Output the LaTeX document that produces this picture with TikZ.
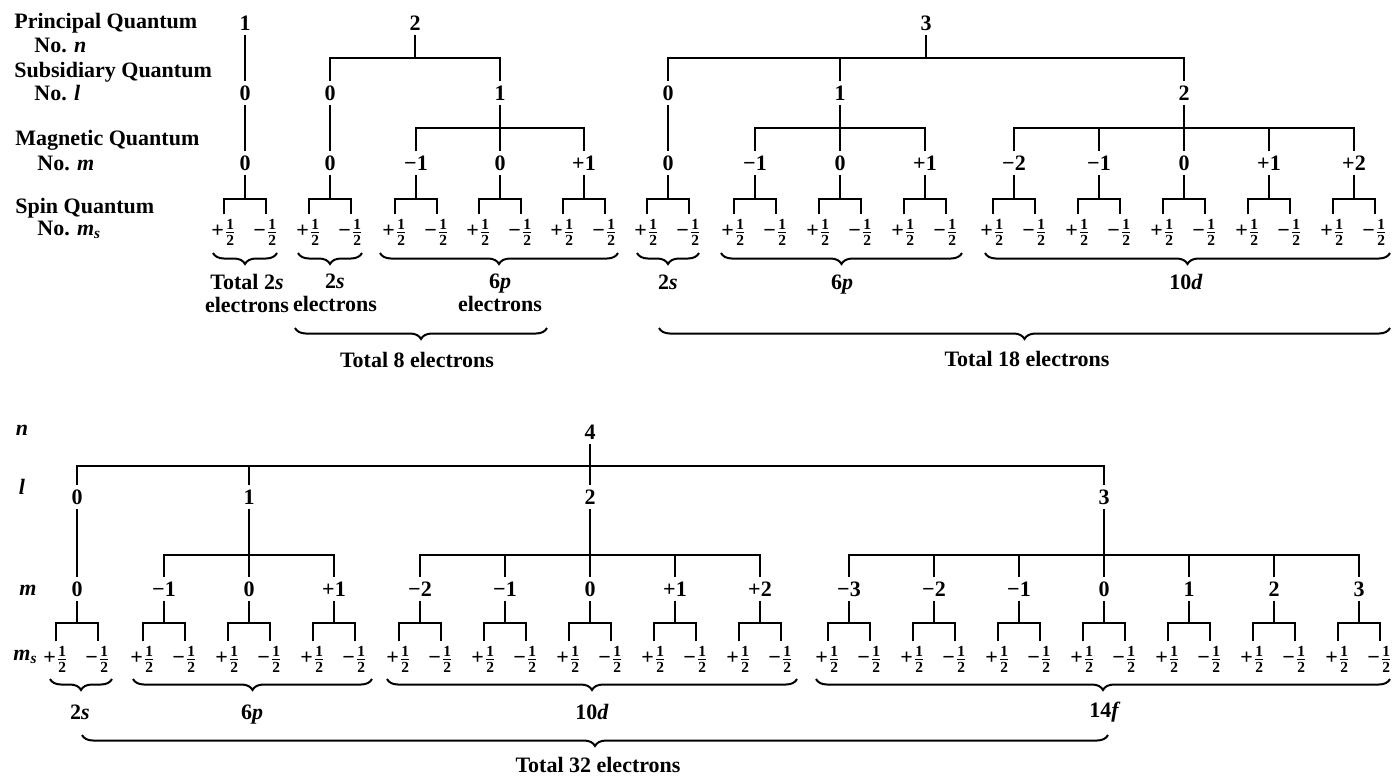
\documentclass[tikz,border=0pt]{standalone}
\usepackage{amsmath}
\usepackage{fontspec}
\setmainfont{Liberation Serif}
\usetikzlibrary{decorations.pathreplacing}

\newcommand{\spinup}{+$\frac{\text{1}}{\text{2}}$}
\newcommand{\spindn}{−$\frac{\text{1}}{\text{2}}$}

\tikzset{
  qn/.style={inner sep=2pt, font=\fontsize{11}{12}\selectfont\bfseries},
  rowlbl/.style={anchor=west, inner sep=0pt, font=\fontsize{11}{12}\selectfont\bfseries},
  branch/.style={line width=1pt},
  shell/.style={decorate, decoration={brace, mirror, amplitude=5.5pt}, line width=1pt},
  shelltxt/.style={align=center, inner sep=0pt, font=\fontsize{11}{11.5}\selectfont\bfseries},
}

\begin{document}
\begin{tikzpicture}[x=0.5pt, y=-0.5pt]

\useasboundingbox (0,0) rectangle (1392,778);

%% ==== upper half: n = 1, 2, 3 ====================================

%% row captions
\node[rowlbl] (capn)  at (14,23)  {Principal Quantum};
\node[rowlbl] (capn2) at (34,45)  {No. \textit{n}};
\node[rowlbl] (capl)  at (14,72)  {Subsidiary Quantum};
\node[rowlbl] (capl2) at (34,93)  {No. \textit{l}};
\node[rowlbl] (capm)  at (15,140) {Magnetic Quantum};
\node[rowlbl] (capm2) at (37,163) {No. \textit{m}};
\node[rowlbl] (caps)  at (15,208) {Spin Quantum};
\node[rowlbl] (caps2) at (37,230) {No. \textit{m}\textsubscript{\textit{s}}};

%% principal numbers
\node[qn] (n1) at (245,23) {1};
\node[qn] (n2) at (415,23) {2};
\node[qn] (n3) at (926,23) {3};

%% subsidiary numbers
\node[qn] (l10) at (245,93)  {0};
\node[qn] (l20) at (330,93)  {0};
\node[qn] (l21) at (500,93)  {1};
\node[qn] (l30) at (668,93)  {0};
\node[qn] (l31) at (840,93)  {1};
\node[qn] (l32) at (1184,93) {2};

%% magnetic numbers
\foreach \nm/\x/\v in {m10/245/0, m20/330/0,
    m21a/416/−1, m21b/500/0, m21c/584/+1,
    m30/668/0, m31a/755/−1, m31b/840/0, m31c/925/+1,
    m32a/1014/−2, m32b/1099/−1, m32c/1184/0, m32d/1269/+1, m32e/1354/+2}
  \node[qn] (\nm) at (\x,163) {\v};

%% n -> l
\coordinate (n2s) at (415,58);
\coordinate (n3s) at (926,58);
\draw[branch] (n1) -- (l10);
\draw[branch] (n2) -- (n2s);
\draw[branch] (l20) |- (n2s) -| (l21);
\draw[branch] (n3) -- (n3s);
\draw[branch] (l30) |- (n3s) -| (l32);
\draw[branch] (l31) -- (l31 |- n3s);

%% l -> m
\coordinate (l21s) at (500,128);
\coordinate (l31s) at (840,128);
\coordinate (l32s) at (1184,128);
\draw[branch] (l10) -- (m10);
\draw[branch] (l20) -- (m20);
\draw[branch] (l21) -- (l21s);
\draw[branch] (m21a) |- (l21s) -| (m21c);
\draw[branch] (m21b) -- (l21s);
\draw[branch] (l30) -- (m30);
\draw[branch] (l31) -- (l31s);
\draw[branch] (m31a) |- (l31s) -| (m31c);
\draw[branch] (m31b) -- (l31s);
\draw[branch] (l32) -- (l32s);
\draw[branch] (m32a) |- (l32s) -| (m32e);
\foreach \k in {b,c,d}
  \draw[branch] (m32\k) -- (m32\k |- l32s);

%% m -> spin pairs
\foreach \nm/\x in {m10/245, m20/330, m21a/416, m21b/500, m21c/584,
    m30/668, m31a/755, m31b/840, m31c/925,
    m32a/1014, m32b/1099, m32c/1184, m32d/1269, m32e/1354} {
  \coordinate (\nm s) at (\x,199);
  \node[qn] (\nm p) at (\x-21,232) {\spinup};
  \node[qn] (\nm q) at (\x+21,232) {\spindn};
  \draw[branch] (\nm) -- (\nm s);
  \draw[branch] (\nm p) |- (\nm s) -| (\nm q);
}

%% subshell braces
\foreach \a/\b in {213/277, 298/362, 380/618, 637/699, 721/962, 985/1390}
  \draw[shell] (\a,253) -- (\b,253);
\draw[shell] (295,328) -- (547,328);
\draw[shell] (659,328) -- (1390,328);

\node[shelltxt] (t2s)  at (247,293)  {Total 2\textit{s}\\electrons};
\node[shelltxt] (t2sb) at (335,293)  {2\textit{s}\\electrons};
\node[shelltxt] (t6pb) at (500,293)  {6\textit{p}\\electrons};
\node[shelltxt, anchor=base] (t2sc) at (668,289)  {2\textit{s}};
\node[shelltxt, anchor=base] (t6pc) at (842,289)  {6\textit{p}};
\node[shelltxt, anchor=base] (t10d) at (1186,289) {10\textit{d}};
\node[shelltxt] (t8)   at (417,360)  {Total 8 electrons};
\node[shelltxt] (t18)  at (1027,359) {Total 18 electrons};

%% ==== lower half: n = 4 ==========================================

\node[qn] (capnb) at (22,430) {\textit{n}};
\node[qn] (caplb) at (22,487) {\textit{l}};
\node[qn] (capmb) at (28,590) {\textit{m}};
\node[rowlbl] (capsb) at (13,657) {\textit{m}\textsubscript{\textit{s}}};

\node[qn] (n4) at (590,432) {4};

\node[qn] (l40) at (77,497)   {0};
\node[qn] (l41) at (249,497)  {1};
\node[qn] (l42) at (590,497)  {2};
\node[qn] (l43) at (1104,497) {3};

\foreach \nm/\x/\v in {m40/77/0,
    m41a/164/−1, m41b/249/0, m41c/334/+1,
    m42a/420/−2, m42b/505/−1, m42c/590/0, m42d/675/+1, m42e/760/+2,
    m43a/849/−3, m43b/934/−2, m43c/1019/−1, m43d/1104/0,
    m43e/1189/1, m43f/1274/2, m43g/1359/3}
  \node[qn] (\nm) at (\x,589) {\v};

%% n -> l
\coordinate (n4s) at (590,466);
\draw[branch] (n4) -- (n4s);
\draw[branch] (l40) |- (n4s) -| (l43);
\draw[branch] (l41) -- (l41 |- n4s);
\draw[branch] (l42) -- (n4s);

%% l -> m
\coordinate (l41s) at (249,555);
\coordinate (l42s) at (590,555);
\coordinate (l43s) at (1104,555);
\draw[branch] (l40) -- (m40);
\draw[branch] (l41) -- (l41s);
\draw[branch] (m41a) |- (l41s) -| (m41c);
\draw[branch] (m41b) -- (l41s);
\draw[branch] (l42) -- (l42s);
\draw[branch] (m42a) |- (l42s) -| (m42e);
\foreach \k in {b,c,d}
  \draw[branch] (m42\k) -- (m42\k |- l42s);
\draw[branch] (l43) -- (l43s);
\draw[branch] (m43a) |- (l43s) -| (m43g);
\foreach \k in {b,c,d,e,f}
  \draw[branch] (m43\k) -- (m43\k |- l43s);

%% m -> spin pairs
\foreach \nm/\x in {m40/77, m41a/164, m41b/249, m41c/334,
    m42a/420, m42b/505, m42c/590, m42d/675, m42e/760,
    m43a/849, m43b/934, m43c/1019, m43d/1104, m43e/1189, m43f/1274, m43g/1359} {
  \coordinate (\nm s) at (\x,623);
  \node[qn] (\nm p) at (\x-21,659) {\spinup};
  \node[qn] (\nm q) at (\x+21,659) {\spindn};
  \draw[branch] (\nm) -- (\nm s);
  \draw[branch] (\nm p) |- (\nm s) -| (\nm q);
}

%% subshell braces
\foreach \a/\b in {50/112, 133/372, 387/797, 816/1390}
  \draw[shell] (\a,679) -- (\b,679);
\draw[shell] (82,735) -- (1108,735);

\node[shelltxt, anchor=base] (b2s)  at (80,719)   {2\textit{s}};
\node[shelltxt, anchor=base] (b6p)  at (252,719)  {6\textit{p}};
\node[shelltxt, anchor=base] (b10d) at (592,719)  {10\textit{d}};
\node[shelltxt, anchor=base] (b14f) at (1105,717) {14\textit{f}};
\node[shelltxt] (t32)  at (598,765)  {Total 32 electrons};

\end{tikzpicture}
\end{document}
